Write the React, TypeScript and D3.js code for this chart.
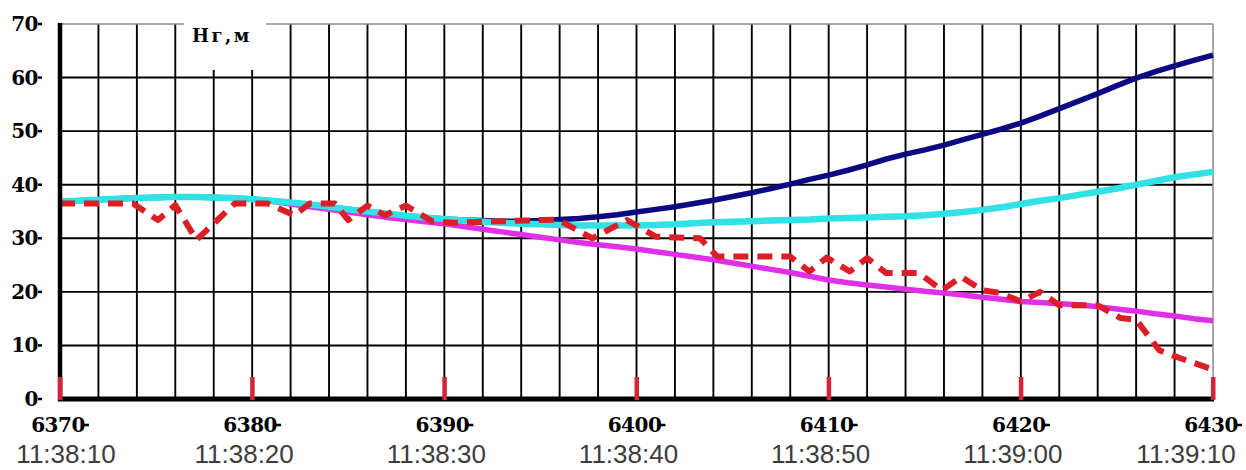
import React from "react";
import * as d3 from "d3";

const W = 1246;
const H = 470;

const distance = [
  6370, 6371, 6372, 6373, 6374, 6375, 6376, 6377, 6378, 6379,
  6380, 6381, 6382, 6383, 6384, 6385, 6386, 6387, 6388, 6389,
  6390, 6391, 6392, 6393, 6394, 6395, 6396, 6397, 6398, 6399,
  6400, 6401, 6402, 6403, 6404, 6405, 6406, 6407, 6408, 6409,
  6410, 6411, 6412, 6413, 6414, 6415, 6416, 6417, 6418, 6419,
  6420, 6421, 6422, 6423, 6424, 6425, 6426, 6427, 6428, 6429,
  6430,
];

const navySeries = [
  36.8, 37.0, 37.2, 37.4, 37.5, 37.6, 37.7, 37.7, 37.6, 37.5,
  37.3, 37.0, 36.7, 36.3, 35.9, 35.4, 35.0, 34.6, 34.2, 33.9,
  33.6, 33.4, 33.3, 33.2, 33.2, 33.3, 33.5, 33.7, 34.0, 34.4,
  34.9, 35.4, 35.9, 36.5, 37.1, 37.8, 38.5, 39.3, 40.1, 41.0,
  41.8, 42.7, 43.7, 44.8, 45.7, 46.5, 47.4, 48.4, 49.4, 50.4,
  51.5, 52.8, 54.2, 55.6, 57.0, 58.5, 59.9, 61.1, 62.2, 63.2,
  64.2,
];

const cyanSeries = [
  36.8, 37.0, 37.2, 37.4, 37.5, 37.6, 37.7, 37.7, 37.6, 37.5,
  37.3, 37.0, 36.7, 36.3, 35.9, 35.4, 35.0, 34.6, 34.2, 33.9,
  33.6, 33.3, 33.1, 32.9, 32.7, 32.6, 32.5, 32.4, 32.4, 32.4,
  32.4, 32.5, 32.6, 32.8, 33.0, 33.1, 33.2, 33.3, 33.4, 33.5,
  33.7, 33.8, 33.9, 34.0, 34.1, 34.3, 34.6, 34.9, 35.3, 35.8,
  36.4, 37.0, 37.5, 38.1, 38.7, 39.3, 40.0, 40.7, 41.4, 41.9,
  42.4,
];

const magentaSeries = [
  36.8, 37.0, 37.2, 37.4, 37.5, 37.6, 37.7, 37.7, 37.6, 37.5,
  37.3, 36.9, 36.4, 35.9, 35.4, 34.9, 34.4, 33.9, 33.5, 33.1,
  32.7, 32.2, 31.7, 31.2, 30.7, 30.2, 29.7, 29.2, 28.8, 28.4,
  28.0, 27.5, 27.0, 26.5, 26.0, 25.4, 24.8, 24.2, 23.6, 22.9,
  22.2, 21.7, 21.3, 20.9, 20.5, 20.1, 19.8, 19.4, 19.0, 18.6,
  18.2, 18.0, 17.8, 17.6, 17.2, 16.8, 16.4, 15.9, 15.5, 15.0,
  14.6,
];

const redX = [
  6370, 6373.8, 6375.1, 6376, 6377.1, 6379.1, 6380.8, 6382.2, 6383, 6384.3,
  6385, 6386, 6386.9, 6388, 6389.4, 6390.5, 6395.9, 6397.7, 6399.5, 6401,
  6403.3, 6404.2, 6408, 6409, 6409.9, 6411.1, 6412, 6413, 6414.7, 6415.9,
  6416.9, 6418, 6418.9, 6420, 6421, 6422, 6424, 6425.2, 6426, 6427.2,
  6428.3, 6430,
];
const redY = [
  36.5, 36.5, 33.4, 36.2, 29.7, 36.5, 36.5, 34.3, 36.5, 36.5,
  33.4, 36.1, 34.3, 36.1, 33.1, 32.9, 33.5, 30.0, 33.4, 30.3,
  30.0, 26.6, 26.6, 23.8, 26.4, 23.8, 26.3, 23.5, 23.5, 20.3,
  22.8, 20.3, 19.8, 18.2, 20.0, 17.5, 17.5, 15.1, 14.8, 9.1,
  7.6, 5.5,
];

const yTicks = [0, 10, 20, 30, 40, 50, 60, 70];
const xMajorTicks = [6370, 6380, 6390, 6400, 6410, 6420, 6430];
const timeLabels = ["11:38:10", "11:38:20", "11:38:30", "11:38:40", "11:38:50", "11:39:00", "11:39:10"];
const xGridTicks = [
  6370, 6372, 6374, 6376, 6378, 6380, 6382, 6384, 6386, 6388, 6390, 6392, 6394, 6396, 6398,
  6400, 6402, 6404, 6406, 6408, 6410, 6412, 6414, 6416, 6418, 6420, 6422, 6424, 6426, 6428, 6430,
];
const yLabel = "Нг,м";

const L = 60, R = 1213, T = 24, B = 399;

export default function App() {
  const x = d3.scaleLinear().domain([6370, 6430]).range([L, R]);
  const y = d3.scaleLinear().domain([0, 70]).range([B, T]);

  const line = d3
    .line<[number, number]>()
    .x((d) => x(d[0]))
    .y((d) => y(d[1]));

  const pts = (vals: number[]) => distance.map((d, i) => [d, vals[i]] as [number, number]);
  const redPts = redX.map((d, i) => [d, redY[i]] as [number, number]);

  const boldFont = "'DejaVu Serif', serif";
  const timeW = 108;

  return (
    <svg
      width={W}
      height={H}
      style={{ position: "absolute", left: 0, top: 0, display: "block", background: "#fff" }}
    >
      <rect x={0} y={0} width={W} height={H} fill="#fff" />
      {yTicks.filter((t) => t > 0 && t < 70).map((t) => (
        <line key={"h" + t} x1={L} x2={R} y1={y(t)} y2={y(t)} stroke="#000" strokeWidth={1.9} />
      ))}
      {xGridTicks.filter((t) => t > 6370 && t < 6430).map((t) => (
        <line key={"v" + t} x1={x(t)} x2={x(t)} y1={T} y2={B} stroke="#000" strokeWidth={1.9} />
      ))}
      <line x1={L} x2={R} y1={T} y2={T} stroke="#8a8a8a" strokeWidth={1.5} />
      <line x1={R} x2={R} y1={T} y2={B} stroke="#8a8a8a" strokeWidth={1.5} />

      <rect x={184} y={10} width={82} height={60} fill="#fff" />
      <text
        x={192}
        y={42}
        fontFamily={boldFont}
        fontWeight="bold"
        fontSize={18}
        letterSpacing={2.5}
        fill="#000"
      >
        {yLabel}
      </text>

      <path d={line(pts(magentaSeries)) || ""} fill="none" stroke="#e030e6" strokeWidth={5.5} strokeLinejoin="round" />
      <path d={line(pts(navySeries)) || ""} fill="none" stroke="#0a0a82" strokeWidth={5.5} strokeLinejoin="round" />
      <path d={line(pts(cyanSeries)) || ""} fill="none" stroke="#30e2e6" strokeWidth={6.5} strokeLinejoin="round" />
      <path
        d={line(redPts) || ""}
        fill="none"
        stroke="#dc1f26"
        strokeWidth={6}
        strokeDasharray="15 9"
        strokeLinejoin="round"
      />

      <line x1={L} x2={L} y1={T - 1} y2={B + 2} stroke="#000" strokeWidth={4.5} />
      <line x1={L - 2} x2={R + 1} y1={B} y2={B} stroke="#000" strokeWidth={5} />

      {xMajorTicks.map((t) => (
        <rect key={"rt" + t} x={x(t) - 2} y={377} width={4.5} height={B - 377 + 1} fill="#d6243a" />
      ))}

      {yTicks.map((t) => (
        <g key={"yl" + t}>
          <text
            x={38}
            y={y(t) + 7}
            textAnchor="end"
            fontFamily={boldFont}
            fontWeight="bold"
            fontSize={20}
            letterSpacing={-0.5}
            fill="#000"
          >
            {t}
          </text>
          <line x1={38} x2={42} y1={y(t)} y2={y(t)} stroke="#000" strokeWidth={2.5} />
        </g>
      ))}

      {xMajorTicks.map((t) => (
        <g key={"xl" + t}>
          <text
            x={x(t) - 2}
            y={432}
            textAnchor="middle"
            fontFamily={boldFont}
            fontWeight="bold"
            fontSize={20}
            letterSpacing={-0.5}
            fill="#000"
          >
            {t}
          </text>
          <line x1={x(t) + 23} x2={x(t) + 29} y1={425} y2={425} stroke="#000" strokeWidth={2.5} />
        </g>
      ))}

      {xMajorTicks.map((t, i) => {
        let cx = x(t) - 8;
        cx = Math.max(12 + timeW / 2, Math.min(1240 - timeW / 2, cx));
        return (
          <text
            key={"tl" + t}
            x={cx}
            y={463}
            textAnchor="middle"
            fontFamily="'Liberation Sans', Arial, sans-serif"
            fontSize={26}
            fill="#3c3c3c"
          >
            {timeLabels[i]}
          </text>
        );
      })}
    </svg>
  );
}
